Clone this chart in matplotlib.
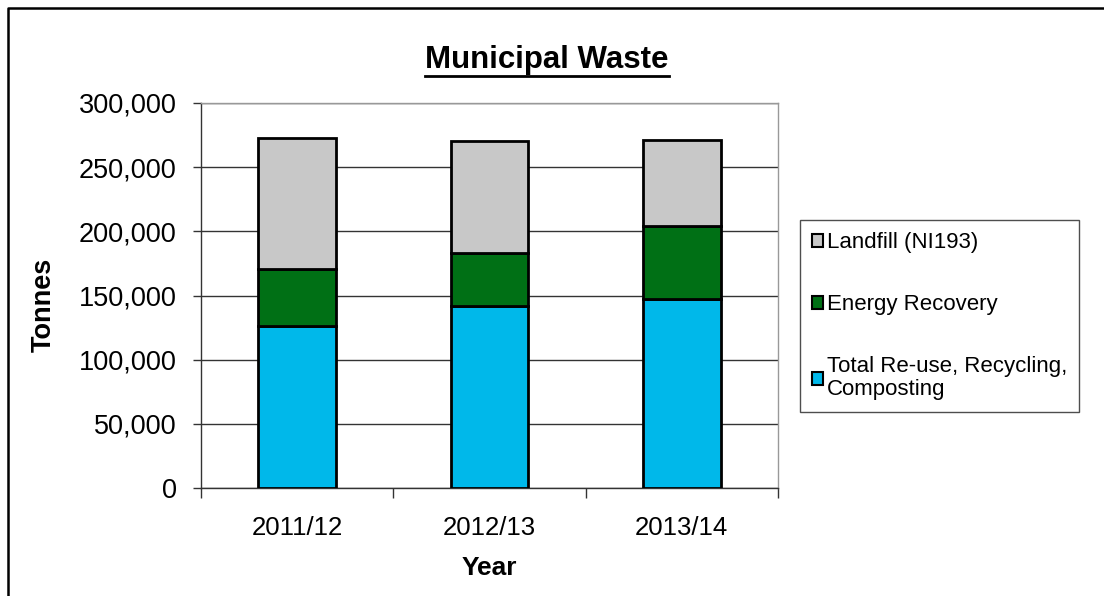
import matplotlib
matplotlib.use("Agg")
import matplotlib.pyplot as plt
from matplotlib.patches import Patch
from matplotlib.lines import Line2D
from matplotlib.ticker import FuncFormatter, FixedLocator

years = ["2011/12", "2012/13", "2013/14"]
recycling = [126400, 141900, 147100]
energy = [44100, 41200, 57300]
landfill = [102600, 86900, 66400]
series_names = ["Total Re-use, Recycling,\nComposting", "Energy Recovery", "Landfill (NI193)"]
colors = ["#00B8EA", "#007015", "#C8C8C8"]

plt.rcParams['font.family'] = ['Liberation Sans', 'DejaVu Sans']

W, H = 1104, 596
fig = plt.figure(figsize=(W/100, H/100), dpi=100)
# outer frame (only left and top edges visible)
fig.lines.append(Line2D([8/W, 8/W, 1.0], [0, 1-7.5/H, 1-7.5/H], transform=fig.transFigure,
                        color='black', linewidth=1.8))

ax = fig.add_axes([201/W, 1-488/H, (778-201)/W, (488-103)/H])
x = list(range(len(years)))
bw = 0.405
ax.bar(x, recycling, bw, color=colors[0], edgecolor='black', linewidth=2, zorder=3)
bottom2 = recycling
ax.bar(x, energy, bw, bottom=bottom2, color=colors[1], edgecolor='black', linewidth=2, zorder=3)
bottom3 = [a + b for a, b in zip(recycling, energy)]
ax.bar(x, landfill, bw, bottom=bottom3, color=colors[2], edgecolor='black', linewidth=2, zorder=3)

ax.set_xlim(-0.5, 2.5)
ax.set_ylim(0, 300000)
ax.set_yticks(range(0, 300001, 50000))
ax.yaxis.set_major_formatter(FuncFormatter(lambda v, p: f"{int(v):,}"))
ax.yaxis.grid(True, color='#333333', linewidth=1, zorder=0)
ax.set_xticks(x)
ax.set_xticklabels(years)
ax.xaxis.set_minor_locator(FixedLocator([-0.5, 0.5, 1.5, 2.5]))
ax.tick_params(axis='x', which='major', length=0, labelsize=18.5, pad=20)
ax.tick_params(axis='x', which='minor', length=7, width=1, color='#333333')
ax.tick_params(axis='y', length=5.5, width=1, color='#333333', labelsize=19.5, pad=12)
for s in ['top', 'right']:
    ax.spines[s].set_color('#999999')
    ax.spines[s].set_linewidth(1)
for s in ['left', 'bottom']:
    ax.spines[s].set_color('#333333')
    ax.spines[s].set_linewidth(1)

ax.set_ylabel("Tonnes", fontsize=19.5, fontweight='bold')
ax.yaxis.set_label_coords((57 - 201)/(778-201), (488-305)/(488-103))
ax.set_xlabel("Year", fontsize=19, fontweight='bold')
ax.xaxis.set_label_coords((489 - 201)/(778-201), -(556-488)/(488-103))

t = fig.text(547/W, 1-60/H, "Municipal Waste", fontsize=22.5, fontweight='bold',
             ha='center', va='center')
fig.canvas.draw()
bb = t.get_window_extent(fig.canvas.get_renderer())
fig.lines.append(Line2D([bb.x0/W, bb.x1/W], [(bb.y0 - 1)/H, (bb.y0 - 1)/H],
                        transform=fig.transFigure, color='black', linewidth=2))

handles = [Patch(facecolor=colors[2], edgecolor='black', linewidth=1.5),
           Patch(facecolor=colors[1], edgecolor='black', linewidth=1.5),
           Patch(facecolor=colors[0], edgecolor='black', linewidth=1.5)]
labels = [series_names[2], series_names[1], series_names[0]]
leg = fig.legend(handles, labels, loc='upper left', bbox_to_anchor=(800/W, 1-220/H),
                 fontsize=16, frameon=True, fancybox=False, edgecolor='#222222',
                 handlelength=0.5, handleheight=0.5, handletextpad=0.15,
                 labelspacing=1.85, borderpad=0.55, borderaxespad=0)
leg.get_frame().set_linewidth(1)
for txt in leg.get_texts():
    txt.set_linespacing(1.1)

fig.savefig("out.png", dpi=100)
